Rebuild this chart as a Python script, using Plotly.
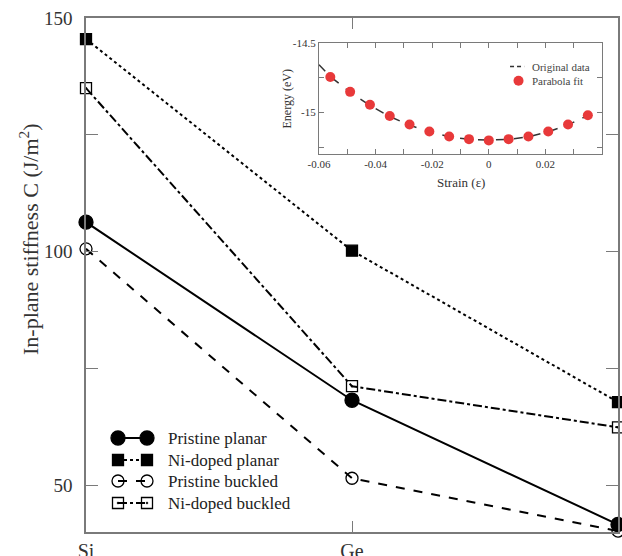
import plotly.graph_objects as go

# ---------------- data ----------------
materials = ["Si", "Ge", "Sn"]
mat_pos = [0, 1, 2]
pristine_planar = [106.3, 68.2, 41.6]
nidoped_planar = [145.5, 100.2, 67.8]
pristine_buckled = [100.6, 51.5, 40.2]
nidoped_buckled = [135.0, 71.2, 62.4]

strain_fit = [-0.056, -0.049, -0.042, -0.035, -0.028, -0.021, -0.014, -0.007,
              0.0, 0.007, 0.014, 0.021, 0.028, 0.035]
energy_fit = [-14.745, -14.852, -14.945, -15.026, -15.088, -15.138, -15.174, -15.193,
              -15.202, -15.193, -15.174, -15.138, -15.088, -15.021]
strain_orig = [-0.060, -0.056, -0.049, -0.042, -0.035, -0.028, -0.021, -0.014, -0.007,
               0.0, 0.007, 0.014, 0.021, 0.028, 0.035]
energy_orig = [-14.657, -14.742, -14.855, -14.950, -15.030, -15.092, -15.140, -15.176, -15.194,
               -15.200, -15.195, -15.176, -15.140, -15.090, -15.022]

legend_names = ["Pristine planar", "Ni-doped planar", "Pristine buckled", "Ni-doped buckled"]

y_major = [50, 100, 150]
y_minor = [75, 125]
inset_x_major = [-0.06, -0.04, -0.02, 0, 0.02]
inset_x_labels = ["-0.06", "-0.04", "-0.02", "0", "0.02"]
inset_x_minor = [-0.05, -0.03, -0.01, 0.01, 0.03, 0.04]
inset_y_major = [-15, -14.5]
inset_y_labels = ["-15", "-14.5"]
inset_y_minor = [-15.25, -14.75]

FONT = "Liberation Serif, Times New Roman, serif"
AX = "#7a7a7a"

styles = [
    dict(symbol="circle", size=14, dash="solid"),
    dict(symbol="square", size=11, dash="dot"),
    dict(symbol="circle-open", size=12, dash="dash"),
    dict(symbol="square-open-dot", size=11, dash="dashdot"),
]
series = [pristine_planar, nidoped_planar, pristine_buckled, nidoped_buckled]

W, H = 622, 556
L, R, T, B = 86, 4, 18, 24
pw, ph = W - L - R, H - T - B

def px_x(p):
    return (p - L) / pw

def px_y(p):
    return (H - B - p) / ph

fig = go.Figure()

for name, vals, st in zip(legend_names, series, styles):
    fig.add_trace(go.Scatter(
        x=mat_pos, y=vals, mode="lines+markers", name=name, showlegend=False,
        cliponaxis=False,
        line=dict(color="black", width=2, dash=st["dash"]),
        marker=dict(symbol=st["symbol"], size=st["size"], color="black",
                    line=dict(color="black", width=1.3)),
    ))

# custom legend (two markers per sample, like the original)
leg_rows = [438, 460, 481, 503]
leg_x = [118, 147]
for name, st, ry in zip(legend_names, styles, leg_rows):
    fig.add_trace(go.Scatter(
        x=leg_x, y=[ry, ry], mode="lines+markers", showlegend=False,
        xaxis="x3", yaxis="y3", cliponaxis=False,
        line=dict(color="black", width=2, dash=st["dash"]),
        marker=dict(symbol=st["symbol"], size=st["size"], color="black",
                    line=dict(color="black", width=1.3)),
    ))
    fig.add_annotation(x=166, y=ry, xref="x3", yref="y3", text=name, showarrow=False,
                       xanchor="left", yanchor="middle",
                       font=dict(family=FONT, size=17, color="#222"))

# inset
fig.add_trace(go.Scatter(
    x=strain_orig, y=energy_orig, mode="lines", xaxis="x2", yaxis="y2", showlegend=False,
    line=dict(color="#333333", width=1.5, dash="dash"),
))
fig.add_trace(go.Scatter(
    x=strain_fit, y=energy_fit, mode="markers", xaxis="x2", yaxis="y2", showlegend=False,
    marker=dict(symbol="circle", size=10, color="#e8393a"),
))
# inset legend
fig.add_trace(go.Scatter(
    x=[0.0075, 0.0125], y=[-14.67, -14.67], mode="lines", xaxis="x2", yaxis="y2",
    showlegend=False, line=dict(color="#333333", width=1.5, dash="4px,3px"),
))
fig.add_trace(go.Scatter(
    x=[0.0105], y=[-14.772], mode="markers", xaxis="x2", yaxis="y2",
    showlegend=False, marker=dict(symbol="circle", size=10, color="#e8393a"),
))
fig.add_annotation(x=0.0145, y=-14.67, xref="x2", yref="y2", text="Original data",
                   showarrow=False, xanchor="left", font=dict(family=FONT, size=11, color="#444"))
fig.add_annotation(x=0.0145, y=-14.772, xref="x2", yref="y2", text="Parabola fit",
                   showarrow=False, xanchor="left", font=dict(family=FONT, size=11, color="#444"))

# y title
fig.add_annotation(x=px_x(29), y=px_y(239), xref="paper", yref="paper",
                   xanchor="center", yanchor="middle",
                   text="In-plane stiffness C (J/m<sup>2</sup>)",
                   showarrow=False, textangle=-90, font=dict(family=FONT, size=22, color="#333"))

# inset axis titles
fig.add_annotation(x=0.5, y=-0.34, xref="x2 domain", yref="y2 domain", text="Strain (ε)",
                   showarrow=False, font=dict(family=FONT, size=13, color="#333"))
fig.add_annotation(x=-0.145, y=0.5, xref="x2 domain", yref="y2 domain", text="Energy (eV)",
                   showarrow=False, textangle=-90, font=dict(family=FONT, size=12, color="#333"))

tick_common = dict(showgrid=False, zeroline=False, showline=True, linecolor=AX,
                   mirror="ticks", ticks="inside", tickcolor=AX, automargin=False)

fig.update_layout(
    width=W, height=H,
    margin=dict(l=L, r=R, t=T, b=B, autoexpand=False),
    plot_bgcolor="white", paper_bgcolor="white",
    font=dict(family=FONT, color="#333"),
    xaxis=dict(range=[0, 2], tickmode="array", tickvals=mat_pos, ticktext=materials,
               linewidth=1.5, ticklen=11,
               tickfont=dict(size=20, color="#333"), **tick_common),
    yaxis=dict(range=[40, 150], tickmode="array", tickvals=y_major,
               linewidth=1.5, ticklen=12, ticklabelstandoff=8,
               minor=dict(tickmode="array", tickvals=y_minor, ticks="inside", ticklen=12,
                          tickcolor=AX, showgrid=False),
               tickfont=dict(size=19, color="#333"), **tick_common),
    xaxis2=dict(domain=[px_x(319), px_x(602)], anchor="y2", range=[-0.06, 0.04],
                tickmode="array", tickvals=inset_x_major, ticktext=inset_x_labels,
                linewidth=1.2, ticklen=5,
                minor=dict(tickmode="array", tickvals=inset_x_minor, ticks="inside", ticklen=5,
                           tickcolor=AX, showgrid=False),
                tickfont=dict(size=11, color="#333"), **tick_common),
    yaxis2=dict(domain=[px_y(154), px_y(43)], anchor="x2", range=[-15.3, -14.5],
                tickmode="array", tickvals=inset_y_major, ticktext=inset_y_labels,
                linewidth=1.2, ticklen=5,
                minor=dict(tickmode="array", tickvals=inset_y_minor, ticks="inside", ticklen=5,
                           tickcolor=AX, showgrid=False),
                tickfont=dict(size=11, color="#333"), **tick_common),
    xaxis3=dict(overlaying="x", anchor="y3", range=[L, W - R], visible=False, fixedrange=True),
    yaxis3=dict(overlaying="y", anchor="x3", range=[H - B, T], visible=False, fixedrange=True),
)

fig.write_html("out.html")
